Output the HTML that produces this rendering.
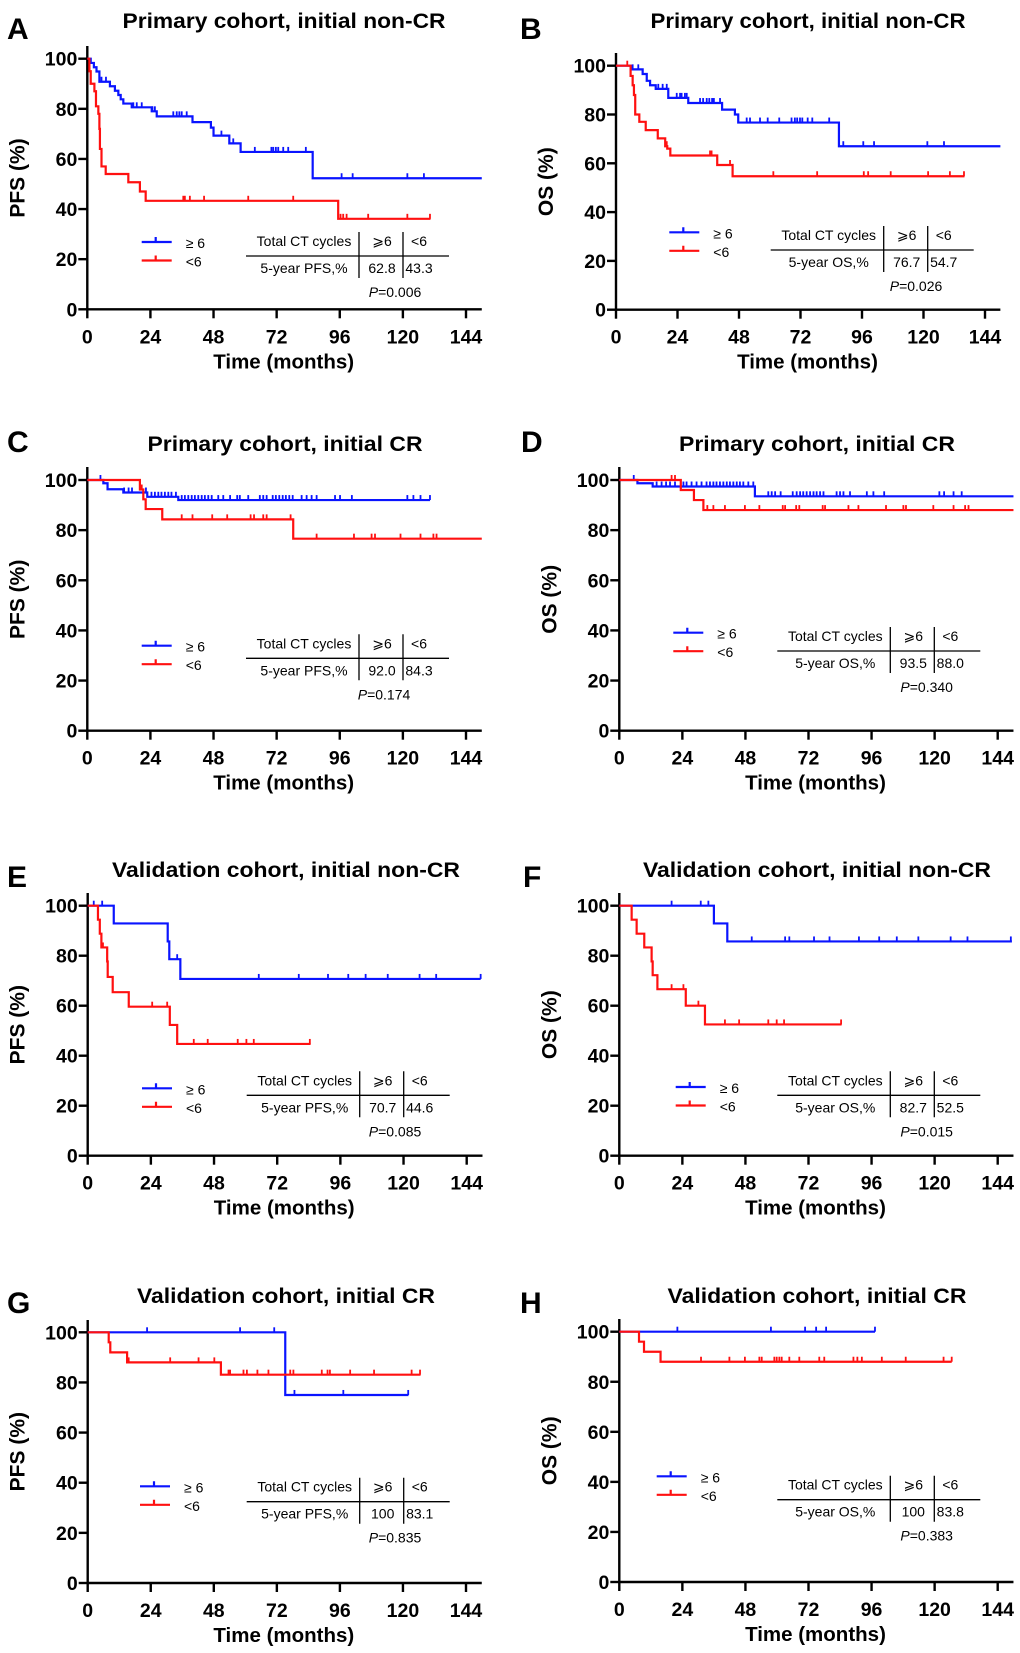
<!DOCTYPE html>
<html><head><meta charset="utf-8">
<style>
html,body{margin:0;padding:0;background:#fff;}
svg{display:block;font-family:"Liberation Sans","DejaVu Sans",sans-serif;}
</style></head>
<body>
<svg id="fig" width="1020" height="1653" viewBox="0 0 1020 1653" xmlns="http://www.w3.org/2000/svg">
<rect width="1020" height="1653" fill="#fff"/>
</svg>
<script>
// ---------- data (months, survival %) ----------
const xTickLabels = [0, 24, 48, 72, 96, 120, 144];
const yTickLabels = [0, 20, 40, 60, 80, 100];
const panelLetters = ["A","B","C","D","E","F","G","H"];
const panelTitles = ["Primary cohort, initial non-CR","Primary cohort, initial non-CR","Primary cohort, initial CR","Primary cohort, initial CR","Validation cohort, initial non-CR","Validation cohort, initial non-CR","Validation cohort, initial CR","Validation cohort, initial CR"];
const yAxisTitles = ["PFS (%)","OS (%)","PFS (%)","OS (%)","PFS (%)","OS (%)","PFS (%)","OS (%)"];
const rowLabels = ["5-year PFS,%","5-year OS,%","5-year PFS,%","5-year OS,%","5-year PFS,%","5-year OS,%","5-year PFS,%","5-year OS,%"];
const fiveYearHigh = ["62.8","76.7","92.0","93.5","70.7","82.7","100","100"];
const fiveYearLow = ["43.3","54.7","84.3","88.0","44.6","52.5","83.1","83.8"];
const pValues = ["0.006","0.026","0.174","0.340","0.085","0.015","0.835","0.383"];

const aBlueT = [1.3,2.5,3.5,4.6,8.6,10.5,11.8,12.7,13.7,16.9,24.5,26.4,40,47,48,54,58.3,85.7];
const aBlueS = [98.3,96.6,94.9,90.8,89,87.2,85.5,83.8,82.1,80.6,79,77,74.7,72.5,69.3,66.2,62.8,52.3];
const aBlueC = [5.4,7.1,8.6,17.5,18.8,20.7,24.8,25.7,32.7,34,35,35.9,37.8,51,55.5,63.7,70,70.7,71.7,72.6,74.5,76.4,83.1,96.7,100.9,121.7,128];
const aRedT = [0.8,1.3,2.7,3.3,4.2,4.6,4.8,5.4,7,15.6,20,22.2,95.4];
const aRedS = [95,90,87,81,78,72,64,57,54,50.7,47,43.3,36.1];
const aRedC = [36.5,37.1,39,44.4,61.2,78.3,96.3,97.3,98.6,106.8,121.7,130.3];
const aEnds = [150,130.5];

const bBlueT = [6.2,10.4,12,13.3,15.5,20.4,28.2,41.4,46.4,47.7,87];
const bBlueS = [98.5,96.6,93.8,92,90.5,86.8,84.7,82,80,76.7,67];
const bBlueC = [6.5,8.7,16.5,18.2,19.8,23.7,25,25.6,26.9,27.6,32.8,34,35.4,36.4,37.5,38.2,40.6,51,52.3,56.2,59.2,63.7,68.5,69.8,70.7,71.8,72.7,74.8,76.6,83.2,88.7,96.5,100.7,121.5,128];
const bRedT = [5.7,6.5,7,7.5,9.1,11.6,16.3,19.2,20,21.2,39.5,45.5];
const bRedS = [95.8,92,88,80,77,73.6,70.2,67,66,63.2,59.3,54.7];
const bRedC = [4.4,19.8,36.7,37.3,44.5,61.4,78.5,96.7,98.4,107.2,121.8,130.3,135.8];
const bEnds = [150,136];

const cBlueT = [6.1,7.7,13.7,22.8,34.6];
const cBlueS = [98.7,96.3,95,93.3,92];
const cBlueC = [5,14,15.7,17,22.3,24.4,25.7,27,28.2,29.5,30.8,32,33.7,35.9,37.1,38.4,39.7,40.9,42.2,43.5,44.7,46,47.3,49.8,51.7,54.3,57,58,61.2,65.6,66.9,68.2,70.5,71.7,73,74.3,75.5,76.8,78.1,81.5,83.4,85.3,87.2,94.2,96.1,100.6,121.7,124,126.7,130.3];
const cRedT = [20,21.3,22.2,28.5,78.3];
const cRedS = [96.2,92.3,88.4,84.3,76.6];
const cRedC = [20.7,35.9,40,47.5,53.2,62.1,63.4,66.9,68.2,77.3,87.2,101.4,108.1,109.4,119.1,126.7,131.6,132.8];
const cEnds = [130.3,150];

const dBlueT = [6.9,12.7,51.6];
const dBlueS = [98.7,97.4,93.5];
const dBlueC = [5.5,14.2,16.1,17.8,19.3,21.2,24.4,25.6,27.5,29.4,31.3,33.2,34.5,35.8,37,38.3,39.6,40.9,42.1,43.4,44.7,45.9,47.2,49.1,51,56.7,58,59.3,61.4,66,67.5,68.8,70,71.3,72.6,73.9,75.1,76.4,77.7,82.7,84,85.3,87.8,94.2,96.7,100.8,121.8,123.6,127.2,130.3];
const dRedT = [23.4,28.4,32];
const dRedS = [96,92,88];
const dRedC = [19.9,21.2,33.5,35.8,40.2,47.8,53.3,62.2,63.1,67.3,68.5,77.4,78.3,87.2,91,101.5,108.1,109.1,119.5,127.2,131.6,132.9];
const dEnds = [150,150];

const eBlueT = [9.9,30.4,31,35.2];
const eBlueS = [92.9,85.7,78.6,70.7];
const eBlueC = [2.3,5.5,34,65,80.2,91.3,99,105.6,114,126.1,132.4,149.3];
const eRedT = [3.9,4.6,5.2,7.4,7.6,9.5,15.6,31.2,34];
const eRedS = [94.4,88.8,83.3,77.7,71.5,65.4,59.6,52.3,44.7];
const eRedC = [5.8,24.5,30.2,40.3,45.6,57,60.3,63.1,84.4];
const eEnds = [149.3,84.7];

const fBlueT = [36,41.1];
const fBlueS = [92.9,85.7];
const fBlueC = [19.9,31,33.9,50.4,63.1,64.7,74.1,80,91.2,98.9,105.6,113.8,126.1,132.5,149];
const fRedT = [4.7,6.6,9.5,12.3,12.7,14.5,25.3,32.6];
const fRedS = [94.4,88.8,83.3,77.7,72.2,66.6,60,52.5];
const fRedC = [19.9,24.4,30.1,40.2,45.6,56.7,59.9,62.7,84.4];
const fEnds = [149.4,84.6];

const gBlueT = [75.2];
const gBlueS = [75];
const gBlueC = [22.6,58,71,78.7,97.3,122];
const gRedT = [8,8.6,15,50.7];
const gRedS = [96,92,88,83.1];
const gRedC = [15.6,31.4,42.2,48.2,53.6,54.2,59.3,60.6,64.6,68.8,77.1,78.3,89.1,91.3,92.2,99.9,109,123.3,126.5];
const gEnds = [122.1,126.7];

const hBlueT = [];
const hBlueS = [];
const hBlueC = [22.1,57.7,70.7,74.9,78.7,97.3];
const hRedT = [7.5,9.4,15.7];
const hRedS = [96,92,88];
const hRedC = [15.7,31.1,41.9,47.8,53.3,54.2,59,59.9,60.9,61.8,64.7,68.5,76.1,78,89.1,90.6,92.3,99.9,109,123.4,126.5];
const hEnds = [97.3,126.5];

// ---------- layout (pixel geometry only) ----------
const layouts = [
 {x0:87.3,x144:466,y100:58.7,y0:309.3,axTop:46,titleY:28,titleX:284,titleW:323,letX:7,letY:29,lx:141.7,ly:242,L:246,Y:256,px:395},
 {x0:616,x144:985,y100:65.7,y0:309.7,axTop:53,titleY:28,titleX:808,titleW:315,letX:520,letY:29,lx:669.3,ly:232.3,L:770.7,Y:250,px:916},
 {x0:87.3,x144:466,y100:480,y0:730.7,axTop:467,titleY:451,titleX:285,titleW:275,letX:7,letY:442,lx:141.7,ly:645.7,L:246,Y:658.3,px:384},
 {x0:619.3,x144:997.7,y100:480,y0:730.7,axTop:467,titleY:451,titleX:817,titleW:276,letX:521,letY:442,lx:673.3,ly:632.7,L:777.3,Y:651,px:926.7},
 {x0:87.7,x144:466.7,y100:905.7,y0:1155.7,axTop:893,titleY:877,titleX:286,titleW:348,letX:7,letY:877,lx:142,ly:1088.3,L:246.7,Y:1095.3,px:395},
 {x0:619.3,x144:997.7,y100:905.7,y0:1155.7,axTop:893,titleY:877,titleX:817,titleW:348,letX:523,letY:877,lx:675.7,ly:1087,L:777.3,Y:1095.3,px:926.7},
 {x0:87.7,x144:466,y100:1332.3,y0:1583,axTop:1320,titleY:1303,titleX:286,titleW:298,letX:7,letY:1303,lx:140,ly:1486.3,L:246.7,Y:1501.7,px:395},
 {x0:619.3,x144:997.7,y100:1331.7,y0:1582,axTop:1319,titleY:1303,titleX:817,titleW:299,letX:520,letY:1303,lx:656.7,ly:1476.3,L:777.3,Y:1499.7,px:926.7}
];
const series = [
 [aBlueT,aBlueS,aBlueC,aRedT,aRedS,aRedC,aEnds],
 [bBlueT,bBlueS,bBlueC,bRedT,bRedS,bRedC,bEnds],
 [cBlueT,cBlueS,cBlueC,cRedT,cRedS,cRedC,cEnds],
 [dBlueT,dBlueS,dBlueC,dRedT,dRedS,dRedC,dEnds],
 [eBlueT,eBlueS,eBlueC,eRedT,eRedS,eRedC,eEnds],
 [fBlueT,fBlueS,fBlueC,fRedT,fRedS,fRedC,fEnds],
 [gBlueT,gBlueS,gBlueC,gRedT,gRedS,gRedC,gEnds],
 [hBlueT,hBlueS,hBlueC,hRedT,hRedS,hRedC,hEnds]
];
const BLUE = "#0a14ff", RED = "#ff1010";
const NS = "http://www.w3.org/2000/svg";
const svg = document.getElementById("fig");

function mk(parent, tag, attrs, text) {
  const el = document.createElementNS(NS, tag);
  for (const k in attrs) el.setAttribute(k, attrs[k]);
  if (text !== undefined) el.textContent = text;
  parent.appendChild(el);
  return el;
}
function survAt(T, S, t) {
  let v = 100;
  for (let i = 0; i < T.length; i++) if (T[i] <= t) v = S[i];
  return v;
}

layouts.forEach((g, p) => {
  const xs = m => g.x0 + (m / 144) * (g.x144 - g.x0);
  const ys = v => g.y0 - (v / 100) * (g.y0 - g.y100);
  const grp = mk(svg, "g", {});
  
  

  const let_ = mk(grp, "text", {x: g.letX, y: g.letY + 10, "font-size": 30, "font-weight": "bold"}, panelLetters[p]);
  
  

  const tt = mk(grp, "text", {x: g.titleX, y: g.titleY, "font-size": 21, "font-weight": "bold", "text-anchor": "middle", textLength: g.titleW, lengthAdjust: "spacingAndGlyphs"}, panelTitles[p]);
  
  

  const xEnd = xs(150);
  const ax = mk(grp, "path", {d: `M${g.x0},${g.axTop} V${g.y0} H${xEnd}`, fill: "none", stroke: "#000", "stroke-width": 2.4});
  
  

  yTickLabels.forEach(v => {
    const y = ys(v);
    const tk = mk(grp, "line", {x1: g.x0 - 9, x2: g.x0, y1: y, y2: y, stroke: "#000", "stroke-width": 2.4});
    
    
    const tl = mk(grp, "text", {x: g.x0 - 10, y: y + 7, "font-size": 19.5, "font-weight": "bold", "text-anchor": "end"}, String(v));
    
    
  });
  xTickLabels.forEach(v => {
    const x = xs(v);
    const tk = mk(grp, "line", {x1: x, x2: x, y1: g.y0, y2: g.y0 + 9, stroke: "#000", "stroke-width": 2.4});
    
    
    const tl = mk(grp, "text", {x: x, y: g.y0 + 34, "font-size": 19.5, "font-weight": "bold", "text-anchor": "middle"}, String(v));
    
    
  });
  const xt = mk(grp, "text", {x: (g.x0 + g.x144) / 2 + 7, y: g.y0 + 59, "font-size": 20.5, "font-weight": "bold", "text-anchor": "middle"}, "Time (months)");
  
  
  const cy = (g.y0 + g.y100) / 2 - 6;
  const yt = mk(grp, "text", {x: 0, y: 0, "font-size": 21, "font-weight": "bold", "text-anchor": "middle", transform: `translate(${g.x0 - 63},${cy}) rotate(-90)`}, yAxisTitles[p]);
  
  

  const s = series[p];
  [[s[0], s[1], s[2], s[6][0], BLUE, 'ge6'], [s[3], s[4], s[5], s[6][1], RED, 'lt6']].forEach(([T, S, C, end, col, nm]) => {
    let d = `M${xs(0)},${ys(100)}`;
    for (let i = 0; i < T.length; i++) d += ` H${xs(T[i])} V${ys(S[i])}`;
    d += ` H${xs(end)}`;
    const ln = mk(grp, "path", {d: d, fill: "none", stroke: col, "stroke-width": 2.2});
    
    
    C.forEach(c => {
      const x = xs(c), y = ys(survAt(T, S, c));
      const ck = mk(grp, "line", {x1: x, x2: x, y1: y, y2: y - 5, stroke: col, "stroke-width": 1.8});
      
      
    });
  });

  [[g.ly, BLUE, "\u2265 6", 'ge6'], [g.ly + 18.5, RED, "<6", 'lt6']].forEach(([y, col, lab, nm]) => {
    const lg = mk(grp, "path", {d: `M${g.lx},${y} H${g.lx + 30} M${g.lx + 14},${y} V${y - 5}`, stroke: col, "stroke-width": 2.2, fill: "none"});
    
    
    const lt = mk(grp, "text", {x: g.lx + 44, y: y + 6, "font-size": 14}, lab);
    
    
  });

  const L = g.L, Y = g.Y;
  const tb = mk(grp, "g", {"font-size": 14, "text-anchor": "middle"});
  
  
  mk(tb, "path", {d: `M${L},${Y} H${L + 203} M${L + 113},${Y - 24} V${Y + 22} M${L + 157},${Y - 24} V${Y + 22}`, stroke: "#000", "stroke-width": 1.3, fill: "none"});
  mk(tb, "text", {x: L + 58, y: Y - 10}, "Total CT cycles");
  mk(tb, "text", {x: L + 136, y: Y - 10}, "\u2a7e6");
  mk(tb, "text", {x: L + 173, y: Y - 10}, "<6");
  mk(tb, "text", {x: L + 58, y: Y + 17}, rowLabels[p]);
  mk(tb, "text", {x: L + 136, y: Y + 17}, fiveYearHigh[p]);
  mk(tb, "text", {x: L + 173, y: Y + 17}, fiveYearLow[p]);
  const pt = mk(grp, "text", {x: g.px, y: Y + 41, "font-size": 14, "text-anchor": "middle"});
  
  
  mk(pt, "tspan", {"font-style": "italic"}, "P");
  mk(pt, "tspan", {}, "=" + pValues[p]);
});
</script>
</body></html>
